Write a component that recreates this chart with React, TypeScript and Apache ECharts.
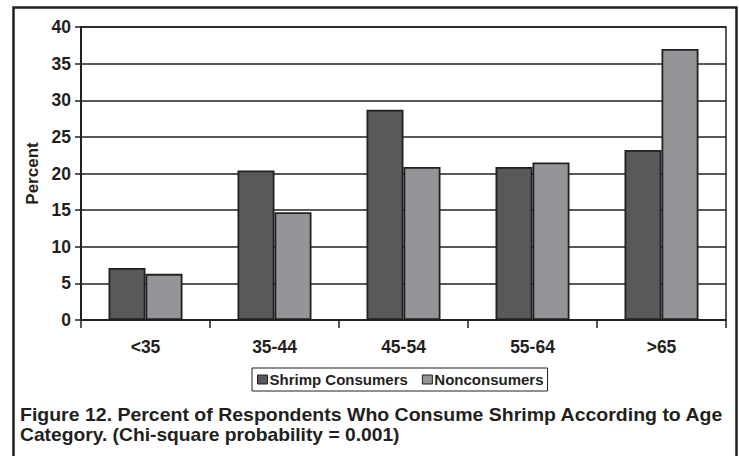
import React, { useEffect, useRef } from "react";
import * as echarts from "echarts";

const categories = ["<35", "35-44", "45-54", "55-64", ">65"];
const shrimpConsumers = [7.1, 20.4, 28.7, 20.9, 23.2];
const nonconsumers = [6.3, 14.7, 20.9, 21.5, 37.0];
const seriesNames = ["Shrimp Consumers", "Nonconsumers"];
const yAxisName = "Percent";
const captionLines = [
  "Figure 12. Percent of Respondents Who Consume Shrimp According to Age",
  "Category. (Chi-square probability = 0.001)",
];

const FONT = '"Liberation Sans", Arial, Helvetica, sans-serif';
const INK = "#231f20";

export default function App() {
  const ref = useRef<HTMLDivElement>(null);
  useEffect(() => {
    if (!ref.current) return;
    const chart = echarts.init(ref.current, null, { renderer: "svg" });
    chart.setOption({
      animation: false,
      backgroundColor: "#ffffff",
      grid: {
        left: 81,
        right: 13,
        top: 27,
        bottom: 136,
        show: true,
        borderColor: INK,
        borderWidth: 1.5,
        backgroundColor: "transparent",
      },
      legend: {
        data: seriesNames,
        left: 252,
        top: 368,
        orient: "horizontal",
        icon: "rect",
        itemWidth: 10,
        itemHeight: 9,
        itemGap: 14,
        padding: [4, 4, 4, 5],
        borderColor: INK,
        borderWidth: 1,
        itemStyle: { borderColor: INK, borderWidth: 1 },
        textStyle: { fontFamily: FONT, fontWeight: "bold", fontSize: 15, color: INK, padding: [0, 0, 0, -3] },
      },
      xAxis: {
        type: "category",
        data: categories,
        axisLine: { show: true, lineStyle: { color: INK, width: 2 } },
        axisTick: { show: true, alignWithLabel: false, length: 8, lineStyle: { color: INK, width: 1.5 } },
        axisLabel: { fontFamily: FONT, fontWeight: "bold", fontSize: 17.5, color: INK, margin: 18 },
        splitLine: { show: false },
      },
      yAxis: {
        type: "value",
        min: 0,
        max: 40,
        interval: 5,
        name: yAxisName,
        nameLocation: "middle",
        nameRotate: 90,
        nameGap: 35,
        nameTextStyle: { fontFamily: FONT, fontWeight: "bold", fontSize: 17, color: INK },
        axisLine: { show: true, lineStyle: { color: INK, width: 2 } },
        axisTick: { show: true, length: 6, lineStyle: { color: INK, width: 1.5 } },
        axisLabel: { fontFamily: FONT, fontWeight: "bold", fontSize: 17.5, color: INK, margin: 10 },
        splitLine: { show: true, lineStyle: { color: INK, width: 1.5 } },
      },
      series: [
        {
          name: seriesNames[0],
          type: "bar",
          data: shrimpConsumers,
          barWidth: 37,
          barGap: "0%",
          itemStyle: { color: "#58595b", borderColor: INK, borderWidth: 1.8 },
        },
        {
          name: seriesNames[1],
          type: "bar",
          data: nonconsumers,
          barWidth: 37,
          barGap: "0%",
          itemStyle: { color: "#949599", borderColor: INK, borderWidth: 1.8 },
        },
      ],
      graphic: [
        {
          type: "rect",
          shape: { x: 13.5, y: 7.5, width: 723, height: 470 },
          style: { fill: "none", stroke: INK, lineWidth: 2.5 },
          silent: true,
        },
        {
          type: "text",
          x: 20,
          y: 414.5,
          scaleX: 1.114,
          style: {
            text: captionLines[0],
            fontFamily: FONT,
            fontWeight: "bold",
            fontSize: 17.5,
            fill: INK,
            verticalAlign: "middle",
            align: "left",
          },
        },
        {
          type: "text",
          x: 20,
          y: 435,
          scaleX: 1.1,
          style: {
            text: captionLines[1],
            fontFamily: FONT,
            fontWeight: "bold",
            fontSize: 17.5,
            fill: INK,
            verticalAlign: "middle",
            align: "left",
          },
        },
      ],
    });
    return () => chart.dispose();
  }, []);
  return (
    <div
      ref={ref}
      style={{ position: "fixed", left: 0, top: 0, width: 739, height: 456, background: "#fff" }}
    />
  );
}
